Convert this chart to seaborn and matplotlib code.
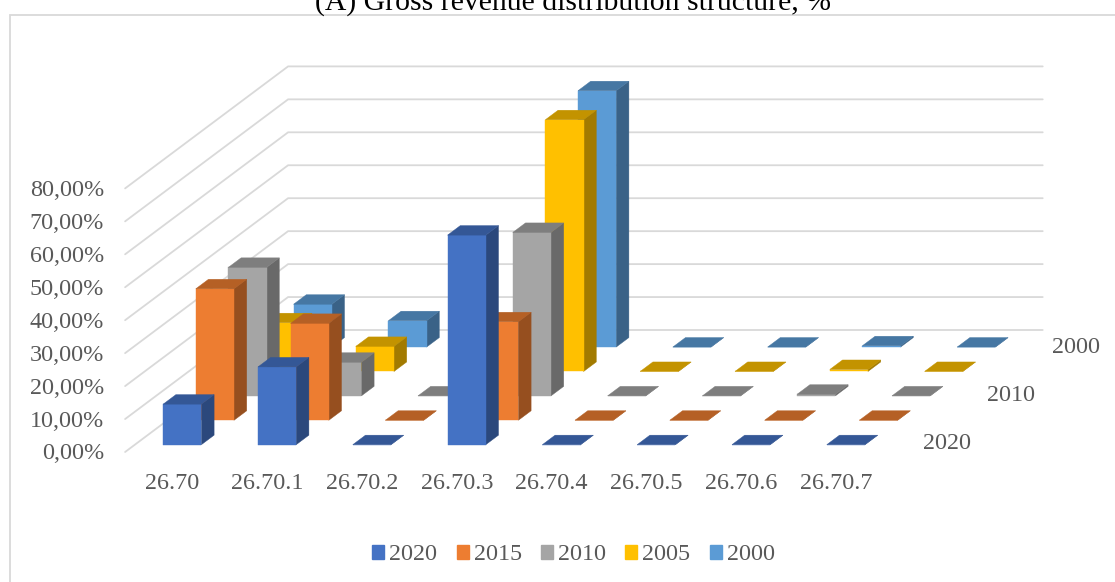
import matplotlib
matplotlib.use('Agg')
import matplotlib.pyplot as plt
import seaborn as sns
from matplotlib.patches import Patch

categories = ['26.70', '26.70.1', '26.70.2', '26.70.3', '26.70.4', '26.70.5', '26.70.6', '26.70.7']
years = ['2020', '2015', '2010', '2005', '2000']
values_2020 = [12.3, 23.6, 0, 63.6, 0, 0, 0, 0]
values_2015 = [39.9, 29.4, 0, 29.9, 0, 0, 0, 0]
values_2010 = [39.0, 10.2, 0, 49.6, 0, 0, 0.5, 0]
values_2005 = [14.8, 7.6, 0, 76.4, 0, 0, 0.6, 0]
values_2000 = [13.0, 8.0, 0, 77.8, 0, 0, 0.4, 0]
series = [values_2020, values_2015, values_2010, values_2005, values_2000]
y_ticks = [0, 10, 20, 30, 40, 50, 60, 70, 80]
y_tick_labels = ['0,00%', '10,00%', '20,00%', '30,00%', '40,00%', '50,00%', '60,00%', '70,00%', '80,00%']
row_labels = {0: '2020', 2: '2010', 4: '2000'}

sns.set_theme(style='white')
plt.rcParams['font.family'] = ['Liberation Serif', 'DejaVu Serif']
palette = sns.color_palette(['#4472C4', '#ED7D31', '#A5A5A5', '#FFC000', '#5B9BD5'])

W, H = 1115, 582
PX_X, PX_Y = 94.8, 3.295  # pixels per category / per percent
X0, Y0 = 172.5, 452
DEPTH_X, DEPTH_Y = 32.6 / PX_X, 24.4 / PX_Y  # shift of one row towards the back
BAR_W, BAR_D, GAP = 0.403, 0.39, 0.30
GRID = '#D9D9D9'
TEXT = '#595959'
FONT = 17.4


def project(cat, depth, value):
    # oblique projection of the 3d chart onto the flat axes
    return cat + depth * DEPTH_X, value + depth * DEPTH_Y


def face(ax, corners, color):
    pts = [project(*c) for c in corners]
    ax.fill([p[0] for p in pts], [p[1] for p in pts], color=color, lw=0.3, zorder=3)


def shade(color, k):
    return tuple(c * k for c in color)


def draw_bar(ax, cat, row, value, color):
    left, right = cat - BAR_W / 2, cat + BAR_W / 2
    d0, d1 = row + GAP, row + GAP + BAR_D
    face(ax, [(right, d0, 0), (right, d1, 0), (right, d1, value), (right, d0, value)], shade(color, 0.635))
    face(ax, [(left, d0, 0), (right, d0, 0), (right, d0, value), (left, d0, value)], color)
    face(ax, [(left, d0, value), (right, d0, value), (right, d1, value), (left, d1, value)], shade(color, 0.765))


fig = plt.figure(figsize=(W / 100, H / 100), dpi=100)
ax = fig.add_axes([0, 0, 1, 1])
ax.set_xlim(-X0 / PX_X, (W - X0) / PX_X)
ax.set_ylim((Y0 - H) / PX_Y, Y0 / PX_Y)
ax.axis('off')

# chart frame
fig.add_artist(plt.Rectangle((9.5 / W, -0.01), 1.1, 1 - 15 / H + 0.01, fill=False, ec=GRID, lw=1.3))

# walls
depth_total = len(years)
for tick, label in zip(y_ticks, y_tick_labels):
    a = project(-0.5, 0, tick)
    b = project(-0.5, depth_total, tick)
    c = project(7.46, depth_total, tick)
    ax.plot([a[0], b[0], c[0]], [a[1], b[1], c[1]], color=GRID, lw=1.3, solid_joinstyle='miter', zorder=1)
    ax.text(-0.72, tick - 0.6, label, ha='right', va='center', color=TEXT, fontsize=FONT)

# bars, back row first
for row in range(len(years) - 1, -1, -1):
    for cat, value in enumerate(series[row]):
        draw_bar(ax, cat, row, value, palette[row])

for cat, label in enumerate(categories):
    ax.text(cat, -9.7, label, ha='center', va='center', color=TEXT, fontsize=FONT)

for row, label in row_labels.items():
    x, y = project(8, row * 0.985 + 0.5, -1.1)
    ax.text(x, y, label, ha='center', va='center', color=TEXT, fontsize=FONT)

handles = [Patch(color=c, label=y) for c, y in zip(palette, years)]
ax.legend(handles=handles, loc='center', bbox_to_anchor=(573.5 / W, 1 - 555 / H), ncol=5, frameon=False,
          fontsize=FONT, labelcolor=TEXT, handlelength=0.5, handleheight=0.5,
          handletextpad=0.2, columnspacing=0.8, borderpad=0)

fig.text(573 / W, 1 - 3 / H, '(A) Gross revenue distribution structure, %', ha='center', va='center',
         color='black', fontsize=21.4)

fig.savefig('out.png', dpi=100)
